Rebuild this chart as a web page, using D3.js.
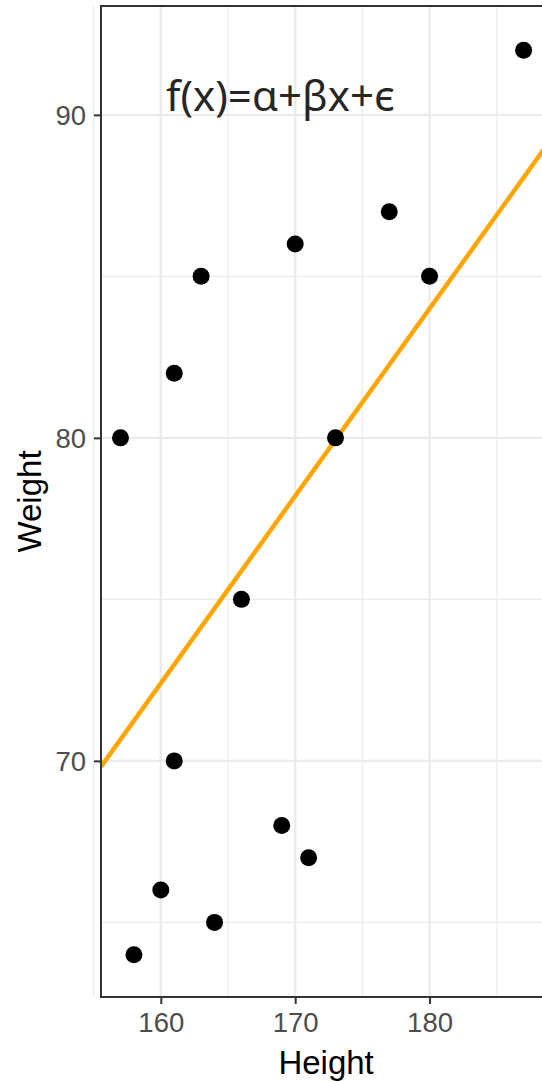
<!DOCTYPE html>
<html>
<head>
<meta charset="utf-8">
<script src="https://cdn.jsdelivr.net/npm/d3@7"></script>
<style>
  html, body { margin: 0; padding: 0; background: #ffffff; }
  svg { display: block; }
</style>
</head>
<body>
<svg id="chart" width="542" height="1082"></svg>
<script>
// Sample of people: height (cm) and weight (kg)
const heights = [157, 158, 160, 161, 161, 163, 164, 166, 169, 170, 171, 173, 177, 180, 187];
const weights = [80, 64, 66, 70, 82, 85, 65, 75, 68, 86, 67, 80, 87, 85, 92];

// Straight line f(x) = alpha + beta * x
const alpha = -20.4;
const beta = 0.58;

// Axis ticks
const xMajor = [160, 170, 180];
const xMinor = [155, 165, 175, 185, 190];
const yMajor = [70, 80, 90];
const yMinor = [65, 75, 85];

const xDomain = [155.55, 190.6];
const yDomain = [62.69, 93.37];

const svg = d3.select("#chart");
const panel = { left: 101, top: 6, right: 572, bottom: 997 };

const x = d3.scaleLinear().domain(xDomain).range([panel.left, panel.right]);
const y = d3.scaleLinear().domain(yDomain).range([panel.bottom, panel.top]);

svg.append("defs").append("clipPath").attr("id", "panel-clip")
  .append("rect")
  .attr("x", panel.left).attr("y", panel.top)
  .attr("width", panel.right - panel.left).attr("height", panel.bottom - panel.top);

const grid = svg.append("g");
// minor grid
grid.selectAll("line.xmin").data(xMinor).join("line")
  .attr("x1", d => x(d)).attr("x2", d => x(d))
  .attr("y1", panel.top).attr("y2", panel.bottom)
  .attr("stroke", "#ebebeb").attr("stroke-width", 1.2);
grid.selectAll("line.ymin").data(yMinor).join("line")
  .attr("y1", d => y(d)).attr("y2", d => y(d))
  .attr("x1", panel.left).attr("x2", panel.right)
  .attr("stroke", "#ebebeb").attr("stroke-width", 1.2);
// major grid
grid.selectAll("line.xmaj").data(xMajor).join("line")
  .attr("x1", d => x(d)).attr("x2", d => x(d))
  .attr("y1", panel.top).attr("y2", panel.bottom)
  .attr("stroke", "#ebebeb").attr("stroke-width", 2.4);
grid.selectAll("line.ymaj").data(yMajor).join("line")
  .attr("y1", d => y(d)).attr("y2", d => y(d))
  .attr("x1", panel.left).attr("x2", panel.right)
  .attr("stroke", "#ebebeb").attr("stroke-width", 2.4);

// formula annotation
svg.append("text")
  .attr("x", 166).attr("y", 111)
  .attr("font-family", "'Noto Sans', 'Open Sans', sans-serif")
  .attr("font-size", 42)
  .attr("fill", "#262626")
  .text("f(x)=α+βx+ϵ");

const plot = svg.append("g").attr("clip-path", "url(#panel-clip)");

// fitted line
plot.append("line")
  .attr("x1", x(xDomain[0])).attr("y1", y(alpha + beta * xDomain[0]))
  .attr("x2", x(xDomain[1])).attr("y2", y(alpha + beta * xDomain[1]))
  .attr("stroke", "#FFA500").attr("stroke-width", 4.5);

// points
plot.selectAll("circle").data(heights.map((h, i) => [h, weights[i]])).join("circle")
  .attr("cx", d => x(d[0])).attr("cy", d => y(d[1]))
  .attr("r", 8.5).attr("fill", "#000");

// axes
const xAxis = svg.append("g")
  .attr("transform", `translate(0,${panel.bottom})`)
  .call(d3.axisBottom(x).tickValues(xMajor).tickSize(7).tickPadding(8).tickFormat(d3.format("d")));
const yAxis = svg.append("g")
  .attr("transform", `translate(${panel.left},0)`)
  .call(d3.axisLeft(y).tickValues(yMajor).tickSize(7).tickPadding(8).tickFormat(d3.format("d")));

[xAxis, yAxis].forEach(a => {
  a.select(".domain").remove();
  a.selectAll(".tick line").attr("stroke", "#333").attr("stroke-width", 2);
  a.selectAll(".tick text")
    .attr("font-family", "'Liberation Sans', Arial, sans-serif")
    .attr("font-size", 27.5).attr("fill", "#4d4d4d");
});
xAxis.selectAll(".tick text").attr("dy", "0.71em");
yAxis.selectAll(".tick text").attr("dy", "0.35em");

// panel border (left, top, bottom)
svg.append("path")
  .attr("d", `M${panel.right},${panel.top}H${panel.left}V${panel.bottom}H${panel.right}`)
  .attr("fill", "none").attr("stroke", "#333").attr("stroke-width", 2);

// axis titles
svg.append("text")
  .attr("x", x(172.3)).attr("y", 1074)
  .attr("text-anchor", "middle")
  .attr("font-family", "'Liberation Sans', Arial, sans-serif")
  .attr("font-size", 33).attr("fill", "#000")
  .text("Height");
svg.append("text")
  .attr("transform", `translate(41,${(panel.top + panel.bottom) / 2}) rotate(-90)`)
  .attr("text-anchor", "middle")
  .attr("font-family", "'Liberation Sans', Arial, sans-serif")
  .attr("font-size", 33).attr("fill", "#000")
  .text("Weight");
</script>
</body>
</html>
